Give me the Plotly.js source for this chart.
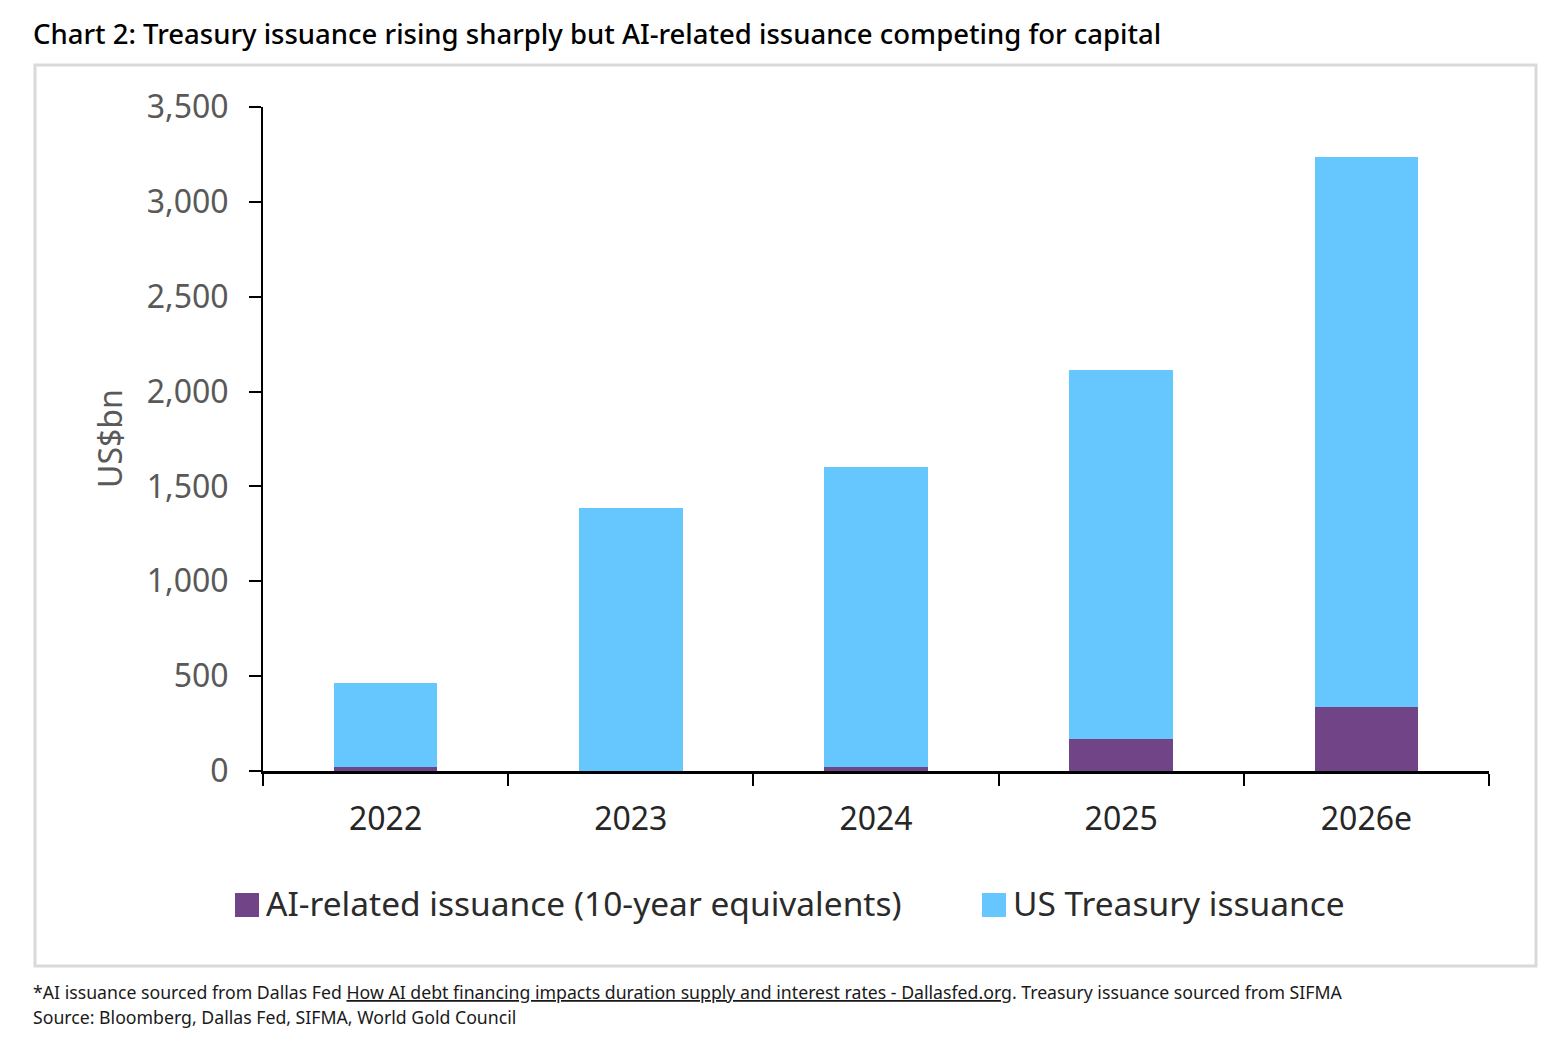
<!DOCTYPE html>
<html>
<head>
<meta charset="utf-8">
<script src="https://cdn.plot.ly/plotly-3.0.1.min.js"></script>
<style>
  html, body { margin: 0; padding: 0; background: #ffffff; }
  #chart { width: 1568px; height: 1056px; }
</style>
</head>
<body>
<div id="chart"></div>
<script>
// Data (US$bn)
const years = ['2022', '2023', '2024', '2025', '2026e'];
const aiIssuance = [20, 0, 20, 170, 335];
const treasuryIssuance = [444, 1388, 1582, 1944, 2901];
const seriesNames = ['AI-related issuance (10-year equivalents)', 'US Treasury issuance'];
const seriesColors = ['#714387', '#66c7fe'];

const titleText = 'Chart 2: Treasury issuance rising sharply but AI-related issuance competing for capital';
const noteText = '*AI issuance sourced from Dallas Fed <u>How AI debt financing impacts duration supply and interest rates - Dallasfed.org</u>. Treasury issuance sourced from SIFMA';
const sourceText = 'Source: Bloomberg, Dallas Fed, SIFMA, World Gold Council';

// plot area in pixels: left 263, right 1489, top 107, bottom 771
const W = 1568, H = 1056;
const L = 263, R = 1489, T = 107, B = 771;
const px = x => (x - L) / (R - L);
const py = y => (B - y) / (B - T);

let traces = [
  {
    x: years,
    y: aiIssuance,
    name: seriesNames[0],
    type: 'bar',
    marker: {color: seriesColors[0]},
    hoverinfo: 'x+y'
  },
  {
    x: years,
    y: treasuryIssuance,
    name: seriesNames[1],
    type: 'bar',
    marker: {color: seriesColors[1]},
    hoverinfo: 'x+y'
  }
];

// Legend drawn by hand so the swatches can be as large as in the reference
let legendItems = [
  {swatch: [235, 259], textX: 264},
  {swatch: [982, 1006], textX: 1011}
];

let shapes = [
  // grey frame around the chart
  {
    type: 'rect', xref: 'paper', yref: 'paper',
    x0: px(35), x1: px(1536), y0: py(966), y1: py(65),
    line: {color: '#d9d9d9', width: 3},
    fillcolor: 'rgba(0,0,0,0)', layer: 'below'
  }
];

let annotations = [
  {
    text: 'US$bn', textangle: -90,
    xref: 'paper', yref: 'paper', x: px(109), y: py(439),
    xanchor: 'center', yanchor: 'middle', showarrow: false,
    font: {family: 'Noto Sans', size: 32, color: '#595959'}
  },
  {
    text: noteText,
    xref: 'paper', yref: 'paper', x: px(31), y: py(992),
    xanchor: 'left', yanchor: 'middle', showarrow: false,
    font: {family: 'Noto Sans', size: 17.7, color: '#1a1a1a'}
  },
  {
    text: sourceText,
    xref: 'paper', yref: 'paper', x: px(31), y: py(1017),
    xanchor: 'left', yanchor: 'middle', showarrow: false,
    font: {family: 'Noto Sans', size: 17.7, color: '#1a1a1a'}
  }
];

for (i in legendItems) {
  let item = legendItems[i];
  shapes.push({
    type: 'rect', xref: 'paper', yref: 'paper',
    x0: px(item.swatch[0]), x1: px(item.swatch[1]),
    y0: py(917), y1: py(893),
    line: {width: 0}, fillcolor: seriesColors[i]
  });
  annotations.push({
    text: seriesNames[i],
    xref: 'paper', yref: 'paper', x: px(item.textX), y: py(903),
    xanchor: 'left', yanchor: 'middle', showarrow: false,
    font: {family: 'Noto Sans', size: 33.5, color: '#2b2b2b'}
  });
}

let layout = {
  width: W,
  height: H,
  barmode: 'stack',
  bargap: 0.578,
  showlegend: false,
  paper_bgcolor: '#ffffff',
  plot_bgcolor: '#ffffff',
  font: {family: 'Noto Sans', color: '#333333'},
  margin: {l: L, r: W - R, t: T, b: H - B, pad: 0},
  title: {
    text: titleText,
    xref: 'container', yref: 'container',
    x: 33 / W, y: 1 - 34 / H,
    xanchor: 'left', yanchor: 'middle',
    font: {family: 'Noto Sans', size: 27.5, color: '#000000', weight: 500}
  },
  xaxis: {
    type: 'category',
    showgrid: false,
    zeroline: false,
    showline: true,
    linecolor: '#000000',
    linewidth: 3,
    ticks: 'outside',
    tickson: 'boundaries',
    ticklen: 12,
    tickwidth: 2,
    tickcolor: '#000000',
    ticklabelstandoff: 18,
    tickfont: {family: 'Noto Sans', size: 32, color: '#262626'},
    fixedrange: true
  },
  yaxis: {
    range: [0, 3500],
    dtick: 500,
    tickformat: ',',
    showgrid: false,
    zeroline: false,
    showline: true,
    linecolor: '#000000',
    linewidth: 2,
    ticks: 'outside',
    ticklen: 12,
    tickwidth: 2,
    tickcolor: '#000000',
    ticklabelstandoff: 14,
    tickfont: {family: 'Noto Sans', size: 32, color: '#595959'},
    fixedrange: true
  },
  shapes: shapes,
  annotations: annotations
};

Plotly.newPlot('chart', traces, layout, {displayModeBar: false, staticPlot: true});
</script>
</body>
</html>
